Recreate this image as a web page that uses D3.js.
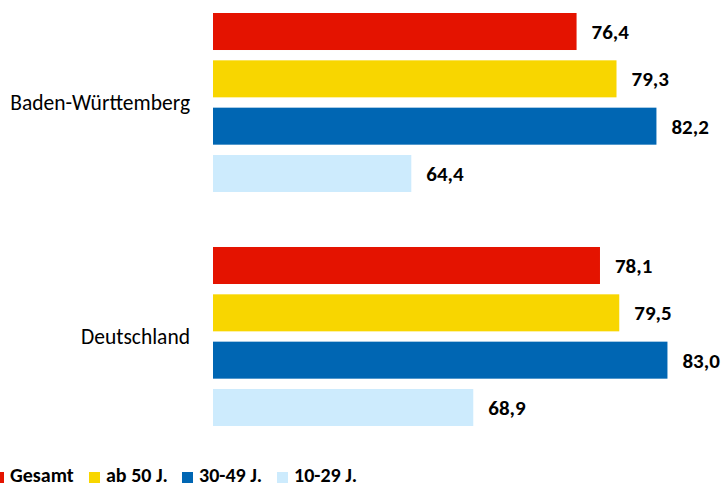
<!DOCTYPE html>
<html>
<head>
<meta charset="utf-8">
<script src="https://cdn.jsdelivr.net/npm/d3@7"></script>
<style>
  body { margin: 0; background: #fff; }
  svg { display: block; font-family: Calibri, Carlito, Lato, sans-serif; }
</style>
</head>
<body>
<svg width="723" height="484"></svg>
<script>
var svg = d3.select("svg");

// data
var regionen = ["Baden-Württemberg", "Deutschland"];
var gruppen = ["Gesamt", "ab 50 J.", "30-49 J.", "10-29 J."];
var wertBW = [76.4, 79.3, 82.2, 64.4];
var wertDE = [78.1, 79.5, 83.0, 68.9];
var farben = ["#e41300", "#f8d600", "#0066b3", "#cdebfd"];

var werte = [wertBW, wertDE];

var x = d3.scaleLinear().domain([50, 85]).range([213, 695]);

var y0 = d3.scaleBand()
  .domain(regionen)
  .range([13, 426])
  .paddingInner(0.235)
  .paddingOuter(0);

var y1 = d3.scaleBand()
  .domain(gruppen)
  .range([0, y0.bandwidth()])
  .paddingInner(0.218)
  .paddingOuter(0);

var fmt = function(v) { return d3.format(".1f")(v).replace(".", ","); };

var reg = svg.append("g")
  .selectAll("g")
  .data(regionen)
  .enter().append("g")
  .attr("transform", function(d) { return "translate(0," + y0(d) + ")"; });

// bars
reg.selectAll("rect")
  .data(function(d, i) {
    return gruppen.map(function(g, j) { return {g: g, v: werte[i][j], c: farben[j]}; });
  })
  .enter().append("rect")
  .attr("x", x(50))
  .attr("y", function(d) { return y1(d.g); })
  .attr("width", function(d) { return x(d.v) - x(50); })
  .attr("height", y1.bandwidth())
  .attr("fill", function(d) { return d.c; });

// value labels
reg.selectAll("text.val")
  .data(function(d, i) {
    return gruppen.map(function(g, j) { return {g: g, v: werte[i][j]}; });
  })
  .enter().append("text")
  .attr("class", "val")
  .attr("x", function(d) { return x(d.v) + 15; })
  .attr("y", function(d) { return y1(d.g) + y1.bandwidth() / 2; })
  .attr("dy", "0.36em")
  .attr("font-size", 21)
  .attr("font-weight", "bold")
  .attr("fill", "#000")
  .text(function(d) { return fmt(d.v); });

// category labels
svg.append("g")
  .selectAll("text")
  .data(regionen)
  .enter().append("text")
  .attr("x", 190)
  .attr("y", function(d) { return y0(d) + y0.bandwidth() / 2; })
  .attr("dy", "0.36em")
  .attr("text-anchor", "end")
  .attr("font-size", 21.5)
  .attr("fill", "#000")
  .text(function(d) { return d; });

// legend
var legX = [-7, 89, 182, 277];
var leg = svg.append("g")
  .selectAll("g")
  .data(gruppen)
  .enter().append("g")
  .attr("transform", function(d, i) { return "translate(" + legX[i] + ",472)"; });

leg.append("rect")
  .attr("width", 11)
  .attr("height", 11)
  .attr("fill", function(d, i) { return farben[i]; });

leg.append("text")
  .attr("x", 17)
  .attr("y", 10)
  .attr("font-size", 20)
  .attr("font-weight", "bold")
  .attr("fill", "#000")
  .text(function(d) { return d; });
</script>
</body>
</html>
